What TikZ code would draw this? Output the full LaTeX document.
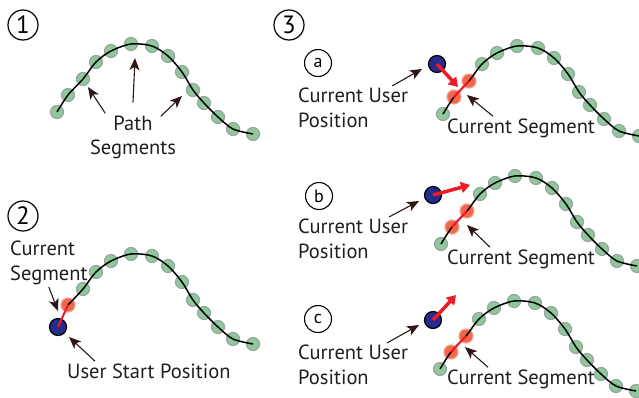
\documentclass[tikz,border=0pt]{standalone}
\usepackage{fontspec}
\setmainfont{PT Sans}
\usetikzlibrary{arrows.meta}
\definecolor{dotgreenc}{HTML}{8DC99C}
\definecolor{dotrimc}{HTML}{9AA59D}
\definecolor{segredc}{HTML}{EF5F3F}
\definecolor{userbluec}{HTML}{262B8C}
\definecolor{headredc}{HTML}{ED1C24}
\definecolor{pointerc}{HTML}{2E1616}
\colorlet{textc}{black!88}
\tikzstyle{pathdot} = [circle, fill=dotgreenc, draw=dotrimc, line width=1.2pt,
    minimum size=13pt, inner sep=0pt]
\tikzstyle{segdot} = [circle, fill=segredc, draw=segredc!60!white, line width=1.2pt,
    minimum size=14pt, inner sep=0pt, opacity=0.95]
\tikzstyle{userdot} = [circle, fill=userbluec, draw=black, line width=1.2pt,
    minimum size=17pt, inner sep=0pt]
\tikzstyle{stepnum} = [circle, draw, line width=1.2pt, minimum size=30pt, inner sep=0pt,
    font=\fontsize{25}{25}\selectfont]
\tikzstyle{substep} = [circle, draw, line width=1.1pt, minimum size=27pt, inner sep=0pt,
    font=\fontsize{18}{18}\selectfont]
\tikzstyle{lbl} = [font=\fontsize{20.5}{25}\selectfont, text=textc, inner sep=2pt, align=left]
\tikzstyle{pointer} = [draw=pointerc, line width=1.1pt, -{Stealth[length=12pt,width=10pt,inset=3pt]}]
\tikzstyle{heading} = [draw=headredc, line width=3.5pt, -{Triangle[length=9pt,width=11pt]}]
\tikzstyle{trackline} = [draw=black, line width=1.5pt]
\tikzstyle{segline} = [draw=headredc, line width=2pt]
\newcommand{\trackcurve}[1]{% path, #1 = first point or nothing
\draw[trackline] plot[smooth] coordinates {#1 (68,95) (83,79) (96,62) (111,51) (131,44)
    (152,46) (168,56) (182,72) (193,90) (204,103) (218,117) (233,129) (253,134)};}
\newcommand{\trackdots}[3]{% name, first dot, last red dot
\foreach \px/\py [count=\i] in {57/112,68/95,83/79,96/62,111/51,131/44,152/46,
    168/56,182/72,193/90,204/103,218/117,233/129,253/134}{
  \ifnum\i<#2\relax\else
    \ifnum\i>#3\relax \node[pathdot] (#1\i) at (\px,\py) {};
    \else\ifnum\i>1\relax \node[segdot] (#1\i) at (\px,\py) {};
    \else \node[pathdot] (#1\i) at (\px,\py) {};\fi\fi
  \fi}}

\begin{document}
\begin{tikzpicture}[x=1pt, y=-1pt]
\useasboundingbox (0,0) rectangle (639,397);

% 1
\node[stepnum] (one) at (23,25) {1};
\trackdots{a}{1}{0}
\trackcurve{(57,112)}
\node[lbl, anchor=base] (pathtxt) at (133,130) {Path};
\node[lbl, anchor=base] (segstxt) at (133,154) {Segments};
\coordinate (tip1a) at (88,87);
\coordinate (tip1b) at (135,58);
\coordinate (tip1c) at (182,96);
\draw[pointer] ([xshift=-6pt]pathtxt.north west) -- (tip1a);
\draw[pointer] ([yshift=11pt]pathtxt.north) -- (tip1b);
\draw[pointer] ([xshift=6pt,yshift=-3pt]pathtxt.north east) -- (tip1c);

% 2
\node[stepnum] (two) at (23,216) {2};
\begin{scope}[shift={(0,210)}]
\trackdots{b}{2}{2}
\trackcurve{}
\end{scope}
\node[userdot] (user2) at (58,327) {};
\draw[segline] (user2.center) -- (b2.center);
\node[lbl, anchor=west] (curseg2) at (8,263) {Current\\Segment};
\coordinate (tip2a) at (58,311);
\draw[pointer] (curseg2.south) -- (tip2a);
\node[lbl, anchor=base west] (start2) at (65,378) {User Start Position};
\coordinate (tip2b) at (69,337);
\draw[pointer] ([xshift=30pt]start2.north west) -- (tip2b);

% 3
\node[stepnum] (three) at (289,25) {3};

% a
\node[substep] (suba) at (318,63) {a};
\begin{scope}[shift={(386,2)}]
\trackdots{c}{1}{3}
\trackcurve{(57,112)}
\end{scope}
\draw[segline] (c2.center) -- (c3.center);
\node[userdot] (usera) at (437,64) {};
\coordinate (heada) at (458,87);
\draw[heading] (usera.center) -- (heada);
\node[lbl, anchor=west] (posa) at (296,108) {Current User\\Position};
\coordinate (tipa1) at (422,69);
\draw[pointer] ([xshift=-18pt]posa.north east) -- (tipa1);
\node[lbl, anchor=base west] (sega) at (445,133) {Current Segment};
\coordinate (tipa2) at (467,95);
\draw[pointer] ([xshift=48pt]sega.north west) -- (tipa2);

% b
\node[substep] (subb) at (319,196) {b};
\begin{scope}[shift={(384,132)}]
\trackdots{d}{1}{3}
\trackcurve{(57,112)}
\end{scope}
\draw[segline] (d2.center) -- (d3.center);
\node[userdot] (userb) at (433,195) {};
\coordinate (headb) at (470,185);
\draw[heading] (userb.center) -- (headb);
\node[lbl, anchor=west] (posb) at (296,239) {Current User\\Position};
\coordinate (tipb1) at (419,201);
\draw[pointer] ([xshift=-21pt]posb.north east) -- (tipb1);
\node[lbl, anchor=base west] (segb) at (445,264) {Current Segment};
\coordinate (tipb2) at (467,225);
\draw[pointer] ([xshift=45pt]segb.north west) -- (tipb2);

% c
\node[substep] (subc) at (318,319) {c};
\begin{scope}[shift={(383,257)}]
\trackdots{e}{1}{3}
\trackcurve{(57,112)}
\end{scope}
\draw[segline] (e2.center) -- (e3.center);
\node[userdot] (userc) at (433,320) {};
\coordinate (headc) at (456,295);
\draw[heading] (userc.center) -- (headc);
\node[lbl, anchor=west] (posc) at (296,365) {Current User\\Position};
\coordinate (tipc1) at (419,325);
\draw[pointer] ([xshift=-23pt]posc.north east) -- (tipc1);
\node[lbl, anchor=base west] (segc) at (445,384) {Current Segment};
\coordinate (tipc2) at (465,347);
\draw[pointer] ([xshift=43pt]segc.north west) -- (tipc2);
\end{tikzpicture}
\end{document}
